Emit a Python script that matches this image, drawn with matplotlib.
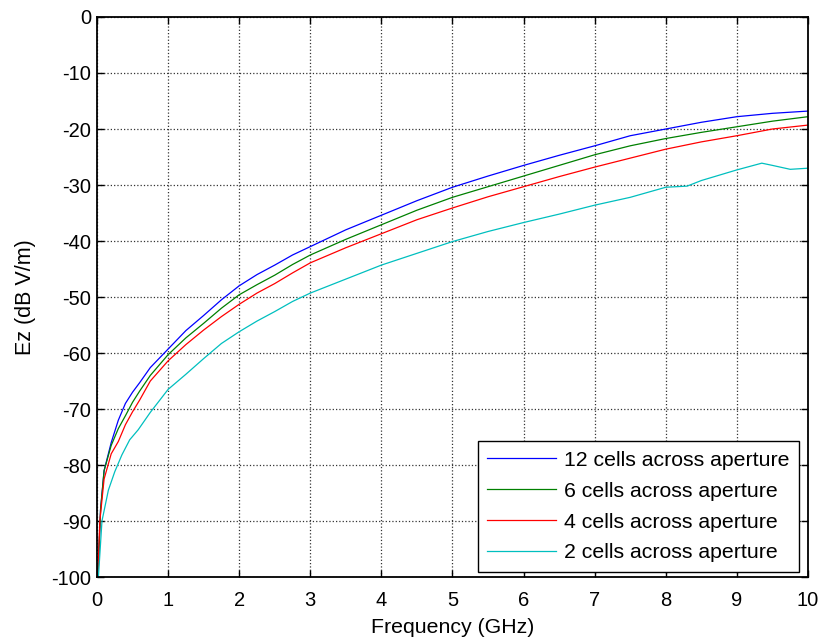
import matplotlib.pyplot as plt

plt.rcParams['font.family'] = ['Liberation Sans', 'DejaVu Sans']
plt.rcParams['axes.unicode_minus'] = False

# frequency points (GHz) and field levels (dB V/m) for each mesh density
f12 = [0.0, 0.02, 0.05, 0.1, 0.2, 0.3, 0.4, 0.5, 0.6, 0.75, 1.0, 1.25, 1.5, 1.75, 2.0, 2.25, 2.5, 2.75,
       3.0, 3.5, 4.0, 4.5, 5.0, 5.5, 6.0, 6.5, 7.0, 7.5, 8.0, 8.5, 9.0, 9.5, 10.0]
ez12 = [-100, -98, -88, -81, -76, -72, -69, -67, -65.3, -62.6, -59.3, -56, -53.3, -50.5, -48, -46, -44.3, -42.5,
        -41, -38, -35.4, -32.8, -30.4, -28.4, -26.5, -24.7, -23, -21.2, -20, -18.8, -17.8, -17.2, -16.8]

f6 = [0.0, 0.02, 0.05, 0.1, 0.2, 0.3, 0.4, 0.5, 0.6, 0.75, 1.0, 1.25, 1.5, 1.75, 2.0, 2.25, 2.5, 2.75,
      3.0, 3.5, 4.0, 4.5, 5.0, 5.5, 6.0, 6.5, 7.0, 7.5, 8.0, 8.5, 9.0, 9.5, 10.0]
ez6 = [-100, -98, -88, -81, -76.5, -73.5, -71.2, -68.8, -66.8, -64, -60.3, -57.3, -54.7, -52, -49.6, -47.8, -46.1, -44.2,
       -42.5, -39.7, -37.1, -34.5, -32.2, -30.3, -28.4, -26.5, -24.6, -23, -21.7, -20.6, -19.6, -18.6, -17.8]

f4 = [0.0, 0.02, 0.04, 0.1, 0.2, 0.3, 0.4, 0.5, 0.6, 0.75, 1.0, 1.25, 1.5, 1.75, 2.0, 2.25, 2.5, 2.75,
      3.0, 3.5, 4.0, 4.5, 5.0, 5.5, 6.0, 6.5, 7.0, 7.5, 8.0, 8.5, 9.0, 9.5, 10.0]
ez4 = [-100, -97, -90, -82.5, -78, -75.8, -72.8, -70.5, -68.4, -65, -61.4, -58.5, -55.9, -53.5, -51.3, -49.3, -47.6, -45.7,
       -43.9, -41.2, -38.7, -36.2, -34.1, -32.1, -30.3, -28.5, -26.8, -25.2, -23.6, -22.3, -21.2, -20, -19.3]

f2 = [0.0, 0.02, 0.07, 0.16, 0.25, 0.35, 0.46, 0.58, 0.75, 1.0, 1.25, 1.5, 1.75, 2.0, 2.25, 2.5, 2.75,
      3.0, 3.5, 4.0, 4.5, 5.0, 5.5, 6.0, 6.5, 7.0, 7.5, 8.0, 8.3, 8.5, 9.0, 9.35, 9.5, 9.75, 10.0]
ez2 = [-100, -100, -90, -84.5, -81.2, -78.2, -75.5, -73.7, -70.6, -66.5, -63.8, -61, -58.3, -56.2, -54.3, -52.6, -50.8,
       -49.3, -46.8, -44.3, -42.2, -40.1, -38.3, -36.7, -35.2, -33.6, -32.2, -30.4, -30.2, -29.2, -27.3, -26.1, -26.5, -27.2, -27.0]

labels = ['12 cells across aperture', '6 cells across aperture',
          '4 cells across aperture', '2 cells across aperture']

fig = plt.figure(figsize=(8.24, 6.39), dpi=100)
ax = fig.add_axes([0.1177, 0.097, 0.8629, 0.8764])

ax.plot(f12, ez12, color=(0, 0, 1), lw=0.9, label=labels[0])
ax.plot(f6, ez6, color=(0, 0.5, 0), lw=0.9, label=labels[1])
ax.plot(f4, ez4, color=(1, 0, 0), lw=0.9, label=labels[2])
ax.plot(f2, ez2, color=(0, 0.75, 0.75), lw=0.9, label=labels[3])

ax.set_xlim(0, 10)
ax.set_ylim(-100, 0)
ax.set_xticks(range(0, 11))
ax.set_yticks(range(-100, 1, 10))
ax.grid(True, linestyle=':', color='#333333', lw=0.9)
ax.tick_params(direction='in', length=5, width=1, top=True, right=True,
               labelsize=14.5, pad=4, colors='black')
ax.tick_params(axis='x', pad=10)
for s in ax.spines.values():
    s.set_linewidth(1.3)

ax.set_xlabel('Frequency (GHz)', fontsize=15.3, labelpad=6)
ax.set_ylabel('Ez (dB V/m)', fontsize=15.5, labelpad=11)

leg = ax.legend(loc='lower right', bbox_to_anchor=(0.9873, 0.009), borderaxespad=0,
                fancybox=False, edgecolor='black', framealpha=1, fontsize=15.3,
                handlelength=3.25, handletextpad=0.36, labelspacing=0.56, borderpad=0.45)
leg.get_frame().set_linewidth(1.0)

fig.savefig('out.png', dpi=100)
